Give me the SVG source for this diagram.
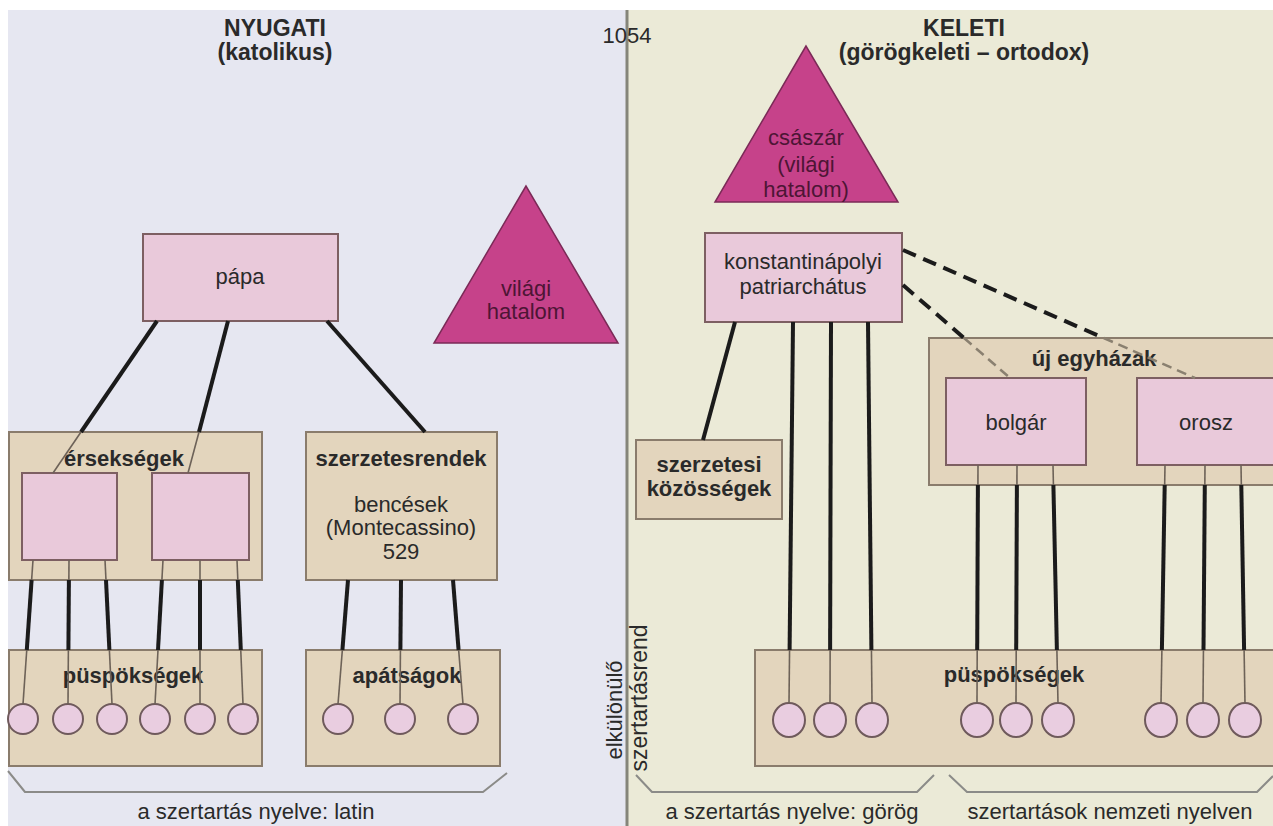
<svg xmlns="http://www.w3.org/2000/svg" width="1273" height="826" viewBox="0 0 1273 826">
<defs>
<style>
.bgL{fill:#e6e7f1}
.bgR{fill:#ebead7}
.box{fill:#e3d5bd;stroke:#8a7c6c;stroke-width:2}
.pink{fill:#e9c9da;stroke:#7d5f62;stroke-width:2}
.tri{fill:#c6428a;stroke:#7b2a57;stroke-width:1.5}
.dot{fill:#e9cde0;stroke:#6f5a5c;stroke-width:2}
.thick{stroke:#1b1b1b;stroke-width:4;fill:none}
.thin{stroke:#6d6258;stroke-width:1.6;fill:none}
.dash{stroke:#1b1b1b;stroke-width:4;stroke-dasharray:14 8;fill:none}
.dashthin{stroke:#8a8070;stroke-width:2.5;stroke-dasharray:10 6;fill:none}
.brace{stroke:#8b8b88;stroke-width:2;fill:none;stroke-linejoin:round}
.t{font-family:"Liberation Sans",Arial,sans-serif;font-size:22px;fill:#2a2a2a;text-anchor:middle}
.b{font-weight:bold}
.h{font-size:23px}
.tt{fill:#4d1535}
</style>
</defs>
<rect x="0" y="0" width="1273" height="826" fill="#ffffff"/>
<rect class="bgL" x="8" y="10" width="619" height="816"/>
<rect class="bgR" x="627" y="10" width="646" height="816"/>
<line x1="627" y1="10" x2="627" y2="826" stroke="#85857a" stroke-width="3"/>

<g id="headings">
<text class="t b h" x="275" y="36">NYUGATI</text>
<text class="t b h" x="275" y="60">(katolikus)</text>
<text class="t" x="627" y="43">1054</text>
<text class="t b h" x="964" y="36">KELETI</text>
<text class="t b h" x="964" y="60">(görögkeleti – ortodox)</text>
<text class="t" transform="translate(622,710) rotate(-90)" x="0" y="0">elkülönülő</text>
<text class="t" transform="translate(647,698) rotate(-90)" x="0" y="0" style="font-size:23px">szertartásrend</text>
</g>

<g id="papa">
<rect class="pink" x="143" y="234" width="195" height="87"/>
<text class="t" x="240" y="284">pápa</text>
</g>
<g id="vilagi-hatalom-nyugat">
<polygon class="tri" points="526,186 434,343 618,343"/>
<text class="t tt" x="526" y="296">világi</text>
<text class="t tt" x="526" y="319">hatalom</text>
</g>
<g id="ersekségek">
<rect class="box" x="9" y="432" width="253" height="148"/>
<text class="t b" x="124" y="466">érsekségek</text>
<rect class="pink" x="22" y="473" width="95" height="87"/>
<rect class="pink" x="152" y="473" width="97" height="87"/>
</g>
<g id="szerzetesrendek">
<rect class="box" x="306" y="432" width="191" height="148"/>
<text class="t b" x="401" y="466">szerzetesrendek</text>
<text class="t" x="401" y="512">bencések</text>
<text class="t" x="401" y="535">(Montecassino)</text>
<text class="t" x="401" y="559">529</text>
</g>
<g id="puspoksegek-nyugat">
<rect class="box" x="9" y="650" width="253" height="116"/>
<text class="t b" x="133" y="683">püspökségek</text>
<circle class="dot" cx="23" cy="719" r="15"/>
<circle class="dot" cx="68" cy="719" r="15"/>
<circle class="dot" cx="112" cy="719" r="15"/>
<circle class="dot" cx="155" cy="719" r="15"/>
<circle class="dot" cx="200" cy="719" r="15"/>
<circle class="dot" cx="243" cy="719" r="15"/>
</g>
<g id="apatsagok">
<rect class="box" x="306" y="650" width="194" height="116"/>
<text class="t b" x="407" y="683">apátságok</text>
<circle class="dot" cx="338" cy="719" r="15"/>
<circle class="dot" cx="400" cy="719" r="15"/>
<circle class="dot" cx="463" cy="719" r="15"/>
</g>
<g id="latin">
<path class="brace" d="M8,771 L25,792 L483,792 L507,773"/>
<text class="t" x="256" y="819">a szertartás nyelve: latin</text>
</g>

<g id="csaszar">
<polygon class="tri" points="806,46 715,202 898,202"/>
<text class="t tt" x="806" y="145">császár</text>
<text class="t tt" x="806" y="172">(világi</text>
<text class="t tt" x="806" y="197">hatalom)</text>
</g>
<g id="patriarchatus">
<rect class="pink" x="705" y="233" width="197" height="89"/>
<text class="t" x="803" y="269">konstantinápolyi</text>
<text class="t" x="803" y="294">patriarchátus</text>
</g>
<g id="szerzetesi-kozossegek">
<rect class="box" x="636" y="440" width="146" height="79"/>
<text class="t b" x="709" y="472">szerzetesi</text>
<text class="t b" x="709" y="496">közösségek</text>
</g>
<g id="uj-egyhazak">
<rect class="box" x="929" y="338" width="360" height="147"/>
<text class="t b" x="1094" y="366">új egyházak</text>
</g>
<g id="bolgar">
<rect class="pink" x="946" y="378" width="140" height="87"/>
<text class="t" x="1016" y="430">bolgár</text>
</g>
<g id="orosz">
<rect class="pink" x="1137" y="378" width="150" height="87"/>
<text class="t" x="1206" y="430">orosz</text>
</g>
<g id="puspoksegek-kelet">
<rect class="box" x="755" y="650" width="540" height="116"/>
<text class="t b" x="1014" y="682">püspökségek</text>
<ellipse class="dot" cx="789" cy="720" rx="16" ry="17"/>
<ellipse class="dot" cx="830" cy="720" rx="16" ry="17"/>
<ellipse class="dot" cx="872" cy="720" rx="16" ry="17"/>
<ellipse class="dot" cx="977" cy="720" rx="16" ry="17"/>
<ellipse class="dot" cx="1016" cy="720" rx="16" ry="17"/>
<ellipse class="dot" cx="1058" cy="720" rx="16" ry="17"/>
<ellipse class="dot" cx="1161" cy="720" rx="16" ry="17"/>
<ellipse class="dot" cx="1203" cy="720" rx="16" ry="17"/>
<ellipse class="dot" cx="1245" cy="720" rx="16" ry="17"/>
</g>
<g id="gorog">
<path class="brace" d="M636,775 L652,792 L917,792 L934,775"/>
<text class="t" x="792" y="819">a szertartás nyelve: görög</text>
</g>
<g id="nemzeti">
<path class="brace" d="M949,775 L967,792 L1257,792 L1273,776"/>
<text class="t" x="1110" y="819">szertartások nemzeti nyelven</text>
</g>

<g id="connectors">
<line class="thick" x1="157" y1="321" x2="81" y2="432"/>
<line class="thin" x1="81" y1="432" x2="53" y2="473"/>
<line class="thick" x1="228" y1="321" x2="199" y2="432"/>
<line class="thin" x1="199" y1="432" x2="188" y2="473"/>
<line class="thick" x1="327" y1="321" x2="425" y2="432"/>

<line class="thin" x1="33" y1="560" x2="23" y2="704"/>
<line class="thick" x1="31.6" y1="580" x2="26.8" y2="650"/>
<line class="thin" x1="69" y1="560" x2="68" y2="704"/>
<line class="thick" x1="68.9" y1="580" x2="68.4" y2="650"/>
<line class="thin" x1="105" y1="560" x2="112" y2="704"/>
<line class="thick" x1="106" y1="580" x2="109.4" y2="650"/>
<line class="thin" x1="163" y1="560" x2="155" y2="704"/>
<line class="thick" x1="161.9" y1="580" x2="158" y2="650"/>
<line class="thin" x1="200" y1="560" x2="200" y2="704"/>
<line class="thick" x1="200" y1="580" x2="200" y2="650"/>
<line class="thin" x1="237" y1="560" x2="243" y2="704"/>
<line class="thick" x1="237.8" y1="580" x2="240.8" y2="650"/>

<line class="thin" x1="348" y1="580" x2="338" y2="704"/>
<line class="thick" x1="348" y1="580" x2="342.4" y2="650"/>
<line class="thin" x1="401" y1="580" x2="400" y2="704"/>
<line class="thick" x1="401" y1="580" x2="400.4" y2="650"/>
<line class="thin" x1="453" y1="580" x2="463" y2="704"/>
<line class="thick" x1="453" y1="580" x2="458.6" y2="650"/>

<line class="thick" x1="735" y1="322" x2="703" y2="440"/>
<line class="thin" x1="793" y1="322" x2="789" y2="703"/>
<line class="thick" x1="793" y1="322" x2="789.6" y2="650"/>
<line class="thin" x1="831" y1="322" x2="830" y2="703"/>
<line class="thick" x1="831" y1="322" x2="830.1" y2="650"/>
<line class="thin" x1="868" y1="322" x2="872" y2="703"/>
<line class="thick" x1="868" y1="322" x2="871.4" y2="650"/>

<line class="dash" x1="903" y1="250" x2="1103.7" y2="338"/>
<line class="dashthin" x1="1103.7" y1="338" x2="1195" y2="378"/>
<line class="dash" x1="903" y1="285" x2="964" y2="338"/>
<line class="dashthin" x1="964" y1="338" x2="1010" y2="378"/>

<line class="thin" x1="978" y1="465" x2="977" y2="703"/>
<line class="thick" x1="977.9" y1="485" x2="977.2" y2="650"/>
<line class="thin" x1="1017" y1="465" x2="1016" y2="703"/>
<line class="thick" x1="1016.9" y1="485" x2="1016.2" y2="650"/>
<line class="thin" x1="1053" y1="465" x2="1058" y2="703"/>
<line class="thick" x1="1053.4" y1="485" x2="1056.9" y2="650"/>
<line class="thin" x1="1165" y1="465" x2="1161" y2="703"/>
<line class="thick" x1="1164.7" y1="485" x2="1161.9" y2="650"/>
<line class="thin" x1="1205" y1="465" x2="1203" y2="703"/>
<line class="thick" x1="1204.8" y1="485" x2="1203.5" y2="650"/>
<line class="thin" x1="1241" y1="465" x2="1245" y2="703"/>
<line class="thick" x1="1241.3" y1="485" x2="1244.1" y2="650"/>
</g>
</svg>
